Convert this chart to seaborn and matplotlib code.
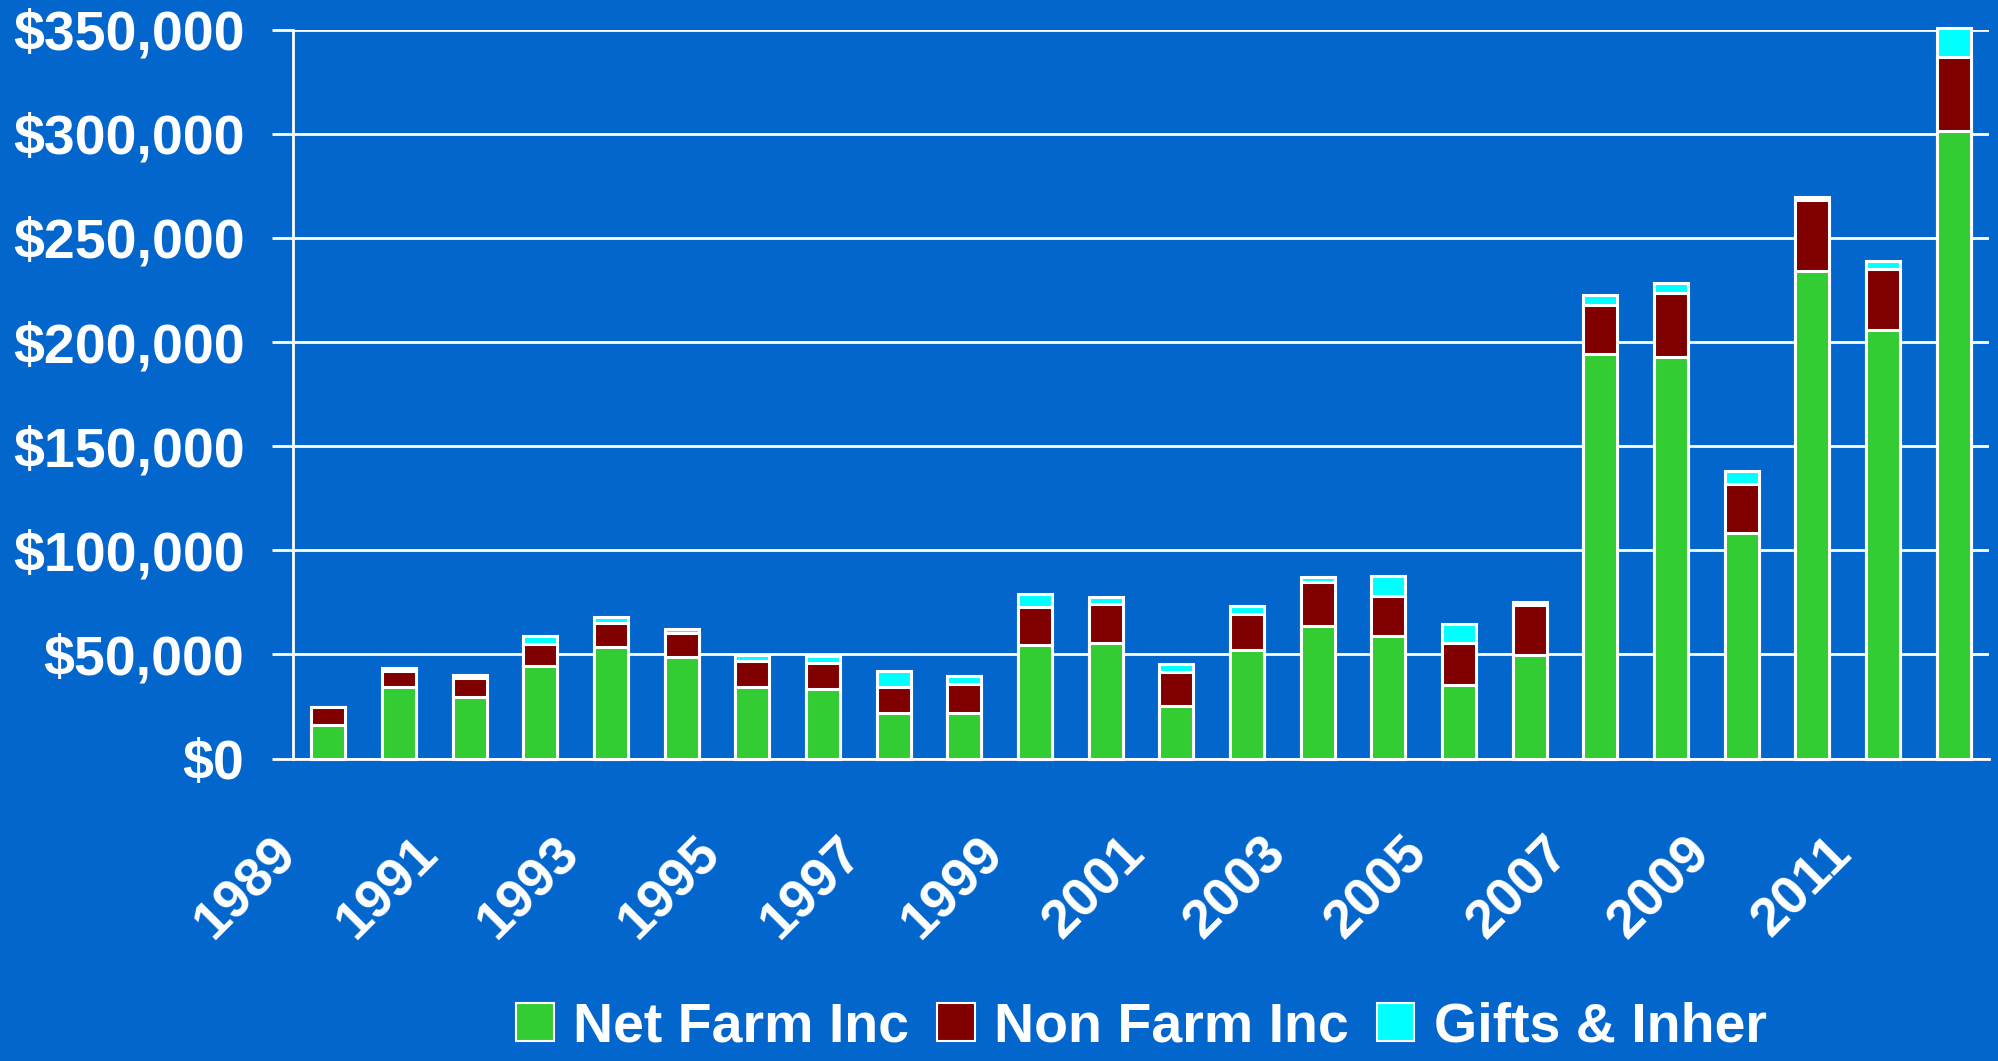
import pandas as pd
import matplotlib.pyplot as plt
import seaborn as sns
from matplotlib.patches import Patch
from matplotlib.ticker import FixedLocator
from matplotlib.transforms import ScaledTranslation

# Data ($ per farm)
years = [str(y) for y in range(1989, 2013)]
net_farm = [16100, 34500, 29700, 44400, 53400, 48900, 34200, 33400, 21800, 21800, 54600, 55500,
            25400, 52100, 63800, 59000, 35200, 49600, 194100, 193000, 108400, 234300, 205900, 301600]
non_farm = [8500, 7700, 9000, 10400, 11500, 11500, 12500, 12500, 12600, 14000, 18400, 18600,
            16100, 17300, 20900, 18900, 20300, 24100, 23700, 30400, 23600, 34000, 29300, 35200]
gifts = [300, 1500, 1500, 4200, 3200, 1800, 3000, 3600, 7600, 3900, 6100, 3700,
         3900, 3900, 2600, 10000, 9200, 1500, 4900, 5200, 6200, 1400, 3800, 13900]

df = pd.DataFrame({"Year": years, "Net Farm Inc": net_farm,
                   "Non Farm Inc": non_farm, "Gifts & Inher": gifts})
df["farm_plus_non"] = df["Net Farm Inc"] + df["Non Farm Inc"]
df["total"] = df["farm_plus_non"] + df["Gifts & Inher"]

bg = "#0366CC"
green = "#33CC33"
darkred = "#800000"
cyan = "#00FFFF"

sns.set_style("white", {"axes.facecolor": bg, "figure.facecolor": bg})
plt.rcParams["font.family"] = ["Liberation Sans", "DejaVu Sans"]
plt.rcParams["font.weight"] = "bold"

fig, ax = plt.subplots(figsize=(19.99, 10.61), dpi=100)
fig.subplots_adjust(left=0.1466, right=0.995, top=0.972, bottom=0.285)

# stacked look: draw cumulative totals, largest first
bar_kw = dict(width=0.48, edgecolor="white", linewidth=2.2, saturation=1, ax=ax,
              order=years, zorder=3, clip_on=False)
sns.barplot(data=df, x="Year", y="total", color=cyan, **bar_kw)
sns.barplot(data=df, x="Year", y="farm_plus_non", color=darkred, **bar_kw)
sns.barplot(data=df, x="Year", y="Net Farm Inc", color=green, **bar_kw)

ax.set_xlim(-0.5, 23.5)
ax.set_ylim(0, 350000)
ax.set_yticks(range(0, 350001, 50000))
ax.set_yticklabels([f"${v:,.0f}" for v in range(0, 350001, 50000)],
                   fontsize=40, fontweight="bold", color="white")
ax.yaxis.grid(True, color="white", linewidth=2, zorder=0)
ax.set_axisbelow(True)

# odd-year labels, tick marks on category boundaries
ax.set_xticks(range(0, 24, 2))
ax.set_xticklabels(years[::2], rotation=45, ha="right", fontsize=39,
                   fontweight="bold", color="white")
ax.xaxis.set_minor_locator(FixedLocator([i - 0.5 for i in range(25)]))
ax.tick_params(axis="x", which="major", length=0, pad=50)
ax.tick_params(axis="x", which="minor", length=13, width=2, color="white", direction="out")
ax.tick_params(axis="y", length=15, width=2, color="white", direction="out", pad=20, left=True)
offset = ScaledTranslation(-0.22, 0, fig.dpi_scale_trans)
for lab in ax.get_xticklabels():
    lab.set_transform(lab.get_transform() + offset)

ax.set_xlabel("")
ax.set_ylabel("")
for side in ["top", "right"]:
    ax.spines[side].set_visible(False)
for side in ["left", "bottom"]:
    ax.spines[side].set_color("white")
    ax.spines[side].set_linewidth(2)
    ax.spines[side].set_zorder(4)

handles = [Patch(facecolor=green, edgecolor="white", linewidth=1.5, label="Net Farm Inc"),
           Patch(facecolor=darkred, edgecolor="white", linewidth=1.5, label="Non Farm Inc"),
           Patch(facecolor=cyan, edgecolor="white", linewidth=1.5, label="Gifts & Inher")]
fig.legend(handles=handles, loc="lower center", bbox_to_anchor=(0.571, -0.04), ncol=3,
           frameon=False, handlelength=0.68, handleheight=0.7,
           handletextpad=0.35, columnspacing=0.5, labelcolor="white",
           prop={"weight": "bold", "size": 40})

plt.savefig("out.png", dpi=100, facecolor=bg)
